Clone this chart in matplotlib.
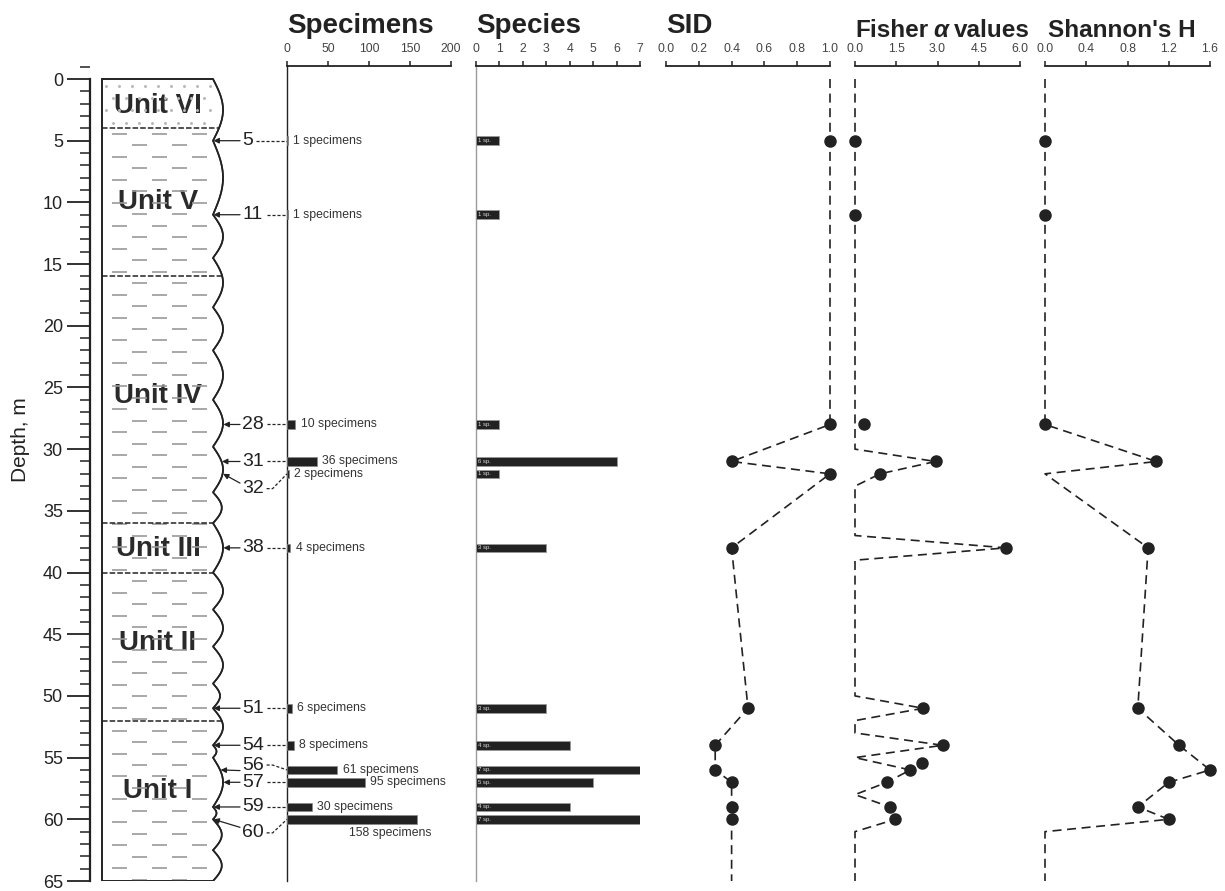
import numpy as np
import matplotlib
matplotlib.use("Agg")
import matplotlib.pyplot as plt
from matplotlib.patches import Polygon
from matplotlib.ticker import MultipleLocator

plt.rcParams['font.family'] = ['Liberation Sans', 'DejaVu Sans']
plt.rcParams['lines.scale_dashes'] = False

# ---- sample data -------------------------------------------------------
depth = [5, 11, 28, 31, 32, 38, 51, 54, 56, 57, 59, 60]
specimens = [1, 1, 10, 36, 2, 4, 6, 8, 61, 95, 30, 158]
species = [1, 1, 1, 6, 1, 3, 3, 4, 7, 5, 4, 7]

# Simpson index of diversity (points and profile)
sid_depth = [5, 28, 31, 32, 38, 51, 54, 56, 57, 59, 60]
sid_value = [1.0, 1.0, 0.4, 1.0, 0.4, 0.5, 0.3, 0.3, 0.4, 0.4, 0.4]
sid_line_depth = [0, 28, 31, 32, 38, 51, 54, 56, 57, 59, 60, 65]
sid_line_value = [1.0, 1.0, 0.4, 1.0, 0.4, 0.5, 0.3, 0.3, 0.4, 0.4, 0.4, 0.4]

# Fisher alpha (points and profile)
fisher_depth = [5, 11, 28, 31, 32, 38, 51, 54, 55.4, 56, 57, 59, 60]
fisher_value = [0.0, 0.0, 0.33, 2.93, 0.91, 5.49, 2.48, 3.19, 2.44, 2.01, 1.16, 1.27, 1.47]
fisher_line_depth = [0, 30, 31, 32, 33, 37, 38, 39, 50, 51, 52, 53, 54, 55, 56, 57,
                     58, 59, 60, 61, 65]
fisher_line_value = [0, 0, 2.93, 0.91, 0, 0, 5.49, 0, 0, 2.48, 0, 0, 3.19, 0, 2.01,
                     1.16, 0, 1.27, 1.47, 0, 0]

# Shannon H (points and profile)
shannon_depth = [5, 11, 28, 31, 38, 51, 54, 56, 57, 59, 60]
shannon_value = [0.0, 0.0, 0.0, 1.08, 1.0, 0.9, 1.3, 1.6, 1.2, 0.9, 1.2]
shannon_line_depth = [0, 28, 31, 32, 38, 51, 54, 56, 57, 59, 60, 61, 65]
shannon_line_value = [0, 0, 1.08, 0, 1.0, 0.9, 1.3, 1.6, 1.2, 0.9, 1.2, 0, 0]

# lithological units: (name, top, base, label depth)
units = [("Unit VI", 0, 4, 2.2), ("Unit V", 4, 16, 10.0), ("Unit IV", 16, 36, 25.7),
         ("Unit III", 36, 40, 38.1), ("Unit II", 40, 52, 45.75), ("Unit I", 52, 65, 57.7)]

# ---- layout helpers ----------------------------------------------------
W, H = 1225, 891
fig = plt.figure(figsize=(W / 100, H / 100), dpi=100)

TOP_PX, BOT_PX, D0_PX = 66, 881, 79
PX_PER_M = (BOT_PX - D0_PX) / 65.0
Y_TOP = -(D0_PX - TOP_PX) / PX_PER_M
INK = '#222222'


def panel(left_px, width_px):
    ax = fig.add_axes([left_px / W, 1 - BOT_PX / H, width_px / W, (BOT_PX - TOP_PX) / H])
    ax.set_ylim(65, Y_TOP)
    ax.patch.set_alpha(0)
    for s in ('right', 'bottom', 'left'):
        ax.spines[s].set_visible(False)
    ax.set_yticks([])
    return ax


def top_scale(ax, ticks, labels):
    ax.xaxis.set_ticks_position('top')
    ax.set_xlim(ticks[0], ticks[-1])
    ax.set_xticks(ticks)
    ax.set_xticklabels(labels)
    ax.set_xticks([ticks[0], ticks[-1]], minor=True)
    ax.tick_params(axis='x', which='major', direction='out', length=3.6, width=1.1,
                   pad=4.5, labelsize=8.8, labelcolor='#444444', color=INK)
    ax.tick_params(axis='x', which='minor', direction='out', length=7.5, width=1.1,
                   color=INK, top=True, bottom=False)
    ax.spines['top'].set_bounds(ticks[0], ticks[-1])
    ax.spines['top'].set_linewidth(1.3)
    ax.spines['top'].set_color(INK)


# ---- depth axis and lithology column ----------------------------------
ax_d = panel(90, 197)
ax_d.set_xlim(0, 197)
ax_d.set_xticks([])
ax_d.spines['top'].set_visible(False)
ax_d.spines['left'].set_visible(True)
ax_d.spines['left'].set_bounds(0, 65)
ax_d.spines['left'].set_linewidth(1.6)
ax_d.spines['left'].set_color(INK)
ax_d.set_yticks(range(0, 66, 5))
ax_d.yaxis.set_minor_locator(MultipleLocator(1))
ax_d.tick_params(axis='y', which='major', length=16.5, width=1.3, pad=3,
                 labelsize=13, labelcolor=INK, color=INK)
ax_d.tick_params(axis='y', which='minor', length=7.2, width=1.1, color=INK)
fig.text(20 / W, 1 - 440 / H, 'Depth, m', rotation=90, ha='center', va='center',
         fontsize=15, color=INK)

COL_L = 12
WAVE_X = 123
cusps = [0, 5, 11, 14.5, 18.5, 22, 26, 29.8, 33.5, 36, 40, 43, 46, 49, 51, 54, 55,
         59, 60, 62.5, 65]


def wave_x(d):
    for a, b in zip(cusps[:-1], cusps[1:]):
        if a <= d <= b:
            amp = min(10.0, 3.5 * (b - a))
            return WAVE_X + amp * np.sin(np.pi * (d - a) / (b - a))
    return WAVE_X


dd = np.linspace(0, 65, 1300)
wx = np.array([wave_x(v) for v in dd])
outline = np.vstack([[COL_L, 0], np.column_stack([wx, dd]), [COL_L, 65]])
column = Polygon(outline, closed=True, facecolor='white', edgecolor=INK, lw=1.2, zorder=1)
ax_d.add_patch(column)

# unit labels sit under the fill pattern
for name, top, base, ld in units:
    ax_d.text(68, ld, name, ha='center', va='center', fontsize=20, fontweight='bold',
              color='#2a2a2a', zorder=2)

# sand dots for the uppermost unit
for i, yy in enumerate(np.arange(0.55, 4.0, 1.0)):
    xs = np.arange(16 + (i % 2) * 6.5, 124, 13)
    ax_d.scatter(xs, np.full_like(xs, yy, dtype=float), s=1.3, color='#b8b8b8',
                 zorder=3, clip_path=column)

# clay dashes for the rest of the column
rows = np.arange(4.45, 65, 0.93)
for i, yy in enumerate(rows):
    starts = [22, 62, 102] if i % 2 == 0 else [42, 82]
    for x0 in starts:
        ln, = ax_d.plot([x0, x0 + 15], [yy, yy], color='#9a9a9a', lw=1.2, zorder=3,
                        solid_capstyle='butt')
        ln.set_clip_path(column)

# unit boundaries
for name, top, base, ld in units[:-1]:
    ax_d.plot([COL_L, wave_x(base)], [base, base], color=INK, lw=1.1,
              dashes=(4, 1.5), zorder=4)
ax_d.add_patch(Polygon(outline, closed=True, facecolor='none', edgecolor=INK, lw=1.2,
                       zorder=5))

# sample markers: arrow to the column, dashed lead to the counts
label_shift = [0, 0, 0, 0, 1.2, 0, 0, 0, -0.4, 0, 0, 1.1]
LBL_X = 152
for d, sh in zip(depth, label_shift):
    ld = d + sh
    ax_d.text(LBL_X, ld, str(d), ha='left', va='center', fontsize=14, color=INK,
              zorder=6)
    ax_d.annotate('', xy=(wave_x(d) + 0.5, d), xytext=(LBL_X - 2, ld - 0.45 * np.sign(sh)),
                  arrowprops=dict(arrowstyle='-|>', color=INK, lw=0.9,
                                  mutation_scale=8, shrinkA=0, shrinkB=0), zorder=6)
    right = LBL_X + 10.8 * len(str(d)) + 3
    if sh:
        xs_c = [right, right + 6, 197]
        ys_c = [ld, ld, d]
    else:
        xs_c = [right, 197]
        ys_c = [d, d]
    ax_d.plot(xs_c, ys_c, color=INK, lw=0.9, dashes=(2.2, 1.4), zorder=6,
              clip_on=False)

# ---- specimens ---------------------------------------------------------
BAR_H = 0.7
ax_s = panel(287, 164)
top_scale(ax_s, [0, 50, 100, 150, 200], ['0', '50', '100', '150', '200'])
ax_s.spines['left'].set_visible(True)
ax_s.spines['left'].set_color(INK)
ax_s.spines['left'].set_linewidth(1.0)
ax_s.barh(depth, specimens, height=BAR_H, color=INK, edgecolor='#888888', lw=0.5,
          zorder=3)
for d, n in zip(depth, specimens):
    if n > 150:
        ax_s.text(n * 0.8, d + 1.15, f'{n} specimens', ha='center', va='center',
                  fontsize=8.8, color='#333333')
    else:
        ax_s.annotate(f'{n} specimens', xy=(n, d), xytext=(4, 0),
                      textcoords='offset points', ha='left', va='center',
                      fontsize=8.8, color='#333333')

# ---- species -----------------------------------------------------------
ax_p = panel(476, 164)
top_scale(ax_p, list(range(0, 8)), [str(v) for v in range(0, 8)])
ax_p.spines['left'].set_visible(True)
ax_p.spines['left'].set_color('#9a9a9a')
ax_p.spines['left'].set_linewidth(1.0)
ax_p.barh(depth, species, height=BAR_H, color=INK, edgecolor='#999999', lw=0.6,
          zorder=3)
for d, n in zip(depth, species):
    ax_p.text(0.08, d, f'{n} sp.', ha='left', va='center', fontsize=4.3,
              color='#d8d8d8', zorder=4)


# ---- diversity indices -------------------------------------------------
def profile(ax, ld, lv, pd, pv):
    ax.plot(lv, ld, color=INK, lw=1.2, dashes=(6.5, 4), clip_on=False, zorder=3)
    ax.plot(pv, pd, 'o', color=INK, ms=8, clip_on=False, zorder=4)


ax_sid = panel(666, 164)
top_scale(ax_sid, [0, 0.2, 0.4, 0.6, 0.8, 1.0], ['0.0', '0.2', '0.4', '0.6', '0.8', '1.0'])
profile(ax_sid, sid_line_depth, sid_line_value, sid_depth, sid_value)

ax_f = panel(855, 165)
top_scale(ax_f, [0, 1.5, 3.0, 4.5, 6.0], ['0.0', '1.5', '3.0', '4.5', '6.0'])
profile(ax_f, fisher_line_depth, fisher_line_value, fisher_depth, fisher_value)

ax_h = panel(1045, 165)
top_scale(ax_h, [0, 0.4, 0.8, 1.2, 1.6], ['0.0', '0.4', '0.8', '1.2', '1.6'])
profile(ax_h, shannon_line_depth, shannon_line_value, shannon_depth, shannon_value)

# ---- panel titles ------------------------------------------------------
def title(x_px, y_px, text, size):
    return fig.text(x_px / W, 1 - y_px / H, text, ha='left', va='baseline',
                    fontsize=size, fontweight='bold', color=INK)


title(287, 33, 'Specimens', 20)
title(476, 33, 'Species', 20)
title(666, 33, 'SID', 20)
t1 = title(855, 37, 'Fisher', 17.5)
t2 = ax_f.annotate('\u03b1', xy=(1, 0), xycoords=t1, xytext=(4, 0),
                   textcoords='offset points', ha='left', va='bottom', fontsize=17.5,
                   fontweight='bold', fontstyle='italic', color=INK, annotation_clip=False)
ax_f.annotate('values', xy=(1, 0), xycoords=t2, xytext=(4, 0),
              textcoords='offset points', ha='left', va='bottom', fontsize=17.5,
              fontweight='bold', color=INK, annotation_clip=False)
title(1048, 37, "Shannon's H", 17.5)

fig.savefig('out.png', dpi=100)
